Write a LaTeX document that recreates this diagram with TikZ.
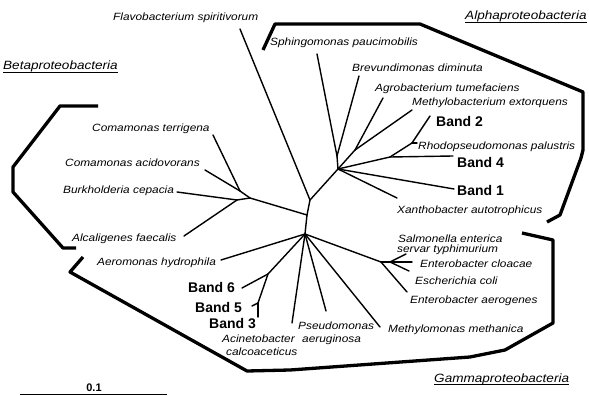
\documentclass[tikz,border=0pt]{standalone}
\usepackage{fontspec}
\setmainfont{Liberation Sans}
\newfontfamily\labfont[FakeStretch=1.13]{Liberation Sans}
\tikzset{
  br/.style={line width=1.4pt, line cap=round, line join=round},
  grp/.style={line width=3.3pt, line join=round, line cap=butt},
  sp/.style={anchor=base west, inner sep=0pt, font=\labfont\itshape\fontsize{10.5}{10.5}\selectfont},
  band/.style={anchor=base west, inner sep=0pt, font=\bfseries\fontsize{14}{14}\selectfont},
  ttl/.style={anchor=base west, inner sep=0pt, font=\labfont\itshape\fontsize{12}{12}\selectfont},
  uline/.style={line width=0.8pt}
}
\begin{document}
\begin{tikzpicture}[x=1pt,y=-1pt]
\useasboundingbox (0,0) rectangle (589,396);

% ---------- internal nodes ----------
\coordinate (C1) at (310,200);
\coordinate (C2) at (307,215);
\coordinate (C3) at (305,234);
\coordinate (A)  at (338,169);
\coordinate (S1) at (337,156);
\coordinate (A2) at (355,150);
\coordinate (A3) at (390,157);
\coordinate (A4) at (412,143);
\coordinate (B)  at (250,198);
\coordinate (Cm) at (240,191);
\coordinate (D)  at (237,200);
\coordinate (G6) at (268,274);
\coordinate (G5) at (258,303);
\coordinate (E1) at (381,262);
\coordinate (E2) at (390,262);

% ---------- tips ----------
\coordinate (tflavo) at (240,29);
\coordinate (tsphin) at (317,54);
\coordinate (tbrev) at (359,76);
\coordinate (tagro) at (383,98);
\coordinate (tmethb) at (412,110);
\coordinate (tband2) at (430,116);
\coordinate (trhodo) at (417,143);
\coordinate (tband4) at (453,156);
\coordinate (tband1) at (454,189);
\coordinate (txanth) at (397,198);
\coordinate (tcterr) at (213,135);
\coordinate (tcacid) at (205,170);
\coordinate (tburk) at (177,192);
\coordinate (talcal) at (184,236);
\coordinate (taerom) at (221,260);
\coordinate (tband6) at (242,288);
\coordinate (tband5) at (252,306);
\coordinate (tband3) at (258,317);
\coordinate (tacin) at (292,323);
\coordinate (tpseu) at (326,311);
\coordinate (tmethm) at (380,327);
\coordinate (tsalm) at (406,254);
\coordinate (tcloac) at (412,262);
\coordinate (tecoli) at (409,271);
\coordinate (taerog) at (407,292);

% ---------- tree ----------
\draw[br] (C1) -- (tflavo);
\draw[br] (C1) -- (A);
\draw[br] (C1) -- (C2);
\draw[br] (C2) -- (B);
\draw[br] (C2) -- (C3);
% alpha
\draw[br] (A) -- (S1);
\draw[br] (S1) -- (tsphin);
\draw[br] (S1) -- (tbrev);
\draw[br] (A) -- (A2);
\draw[br] (A2) -- (tagro);
\draw[br] (A2) -- (tmethb);
\draw[br] (A) -- (A3);
\draw[br] (A3) -- (tband4);
\draw[br] (A3) -- (A4);
\draw[br] (A4) -- (tband2);
\draw[br] (A4) -- (trhodo);
\draw[br] (A) -- (tband1);
\draw[br] (A) -- (txanth);
% beta
\draw[br] (B) -- (Cm);
\draw[br] (Cm) -- (tcterr);
\draw[br] (Cm) -- (tcacid);
\draw[br] (B) -- (D);
\draw[br] (D) -- (tburk);
\draw[br] (D) -- (talcal);
% gamma
\draw[br] (C3) -- (taerom);
\draw[br] (C3) -- (G6);
\draw[br] (G6) -- (tband6);
\draw[br] (G6) -- (G5);
\draw[br] (G5) -- (tband5);
\draw[br] (G5) -- (tband3);
\draw[br] (C3) -- (tacin);
\draw[br] (C3) -- (tpseu);
\draw[br] (C3) -- (tmethm);
\draw[br] (C3) -- (E1);
\draw[br] (E1) -- (E2);
\draw[br] (E2) -- (tsalm);
\draw[br] (E2) -- (tcloac);
\draw[br] (E2) -- (tecoli);
\draw[br] (E1) -- (taerog);

% ---------- group brackets ----------
\coordinate (pa1) at (263,50);  \coordinate (pa2) at (275,24);
\coordinate (pa3) at (420,24);  \coordinate (pa4) at (583,92);
\coordinate (pa5) at (583,150); \coordinate (pa6) at (581,158);
\coordinate (pa7) at (560,215); \coordinate (pa8) at (547,222);
\draw[grp] (pa1) -- (pa2) -- (pa3) -- (pa4) -- (pa5) -- (pa6) -- (pa7) -- (pa8);

\coordinate (pb1) at (98,106);  \coordinate (pb2) at (60,106);
\coordinate (pb3) at (13,167);  \coordinate (pb4) at (13,192);
\coordinate (pb5) at (63,248);  \coordinate (pb6) at (76,248);
\draw[grp] (pb1) -- (pb2) -- (pb3) -- (pb4) -- (pb5) -- (pb6);

\coordinate (pg1) at (522,233); \coordinate (pg2) at (553,240);
\coordinate (pg3) at (553,323); \coordinate (pg4) at (505,350);
\coordinate (pg5) at (470,357); \coordinate (pg6) at (290,370);
\coordinate (pg7) at (247,371); \coordinate (pg8) at (70,272);
\coordinate (pg9) at (83,257);
\draw[grp] (pg1) -- (pg2) -- (pg3) -- (pg4) -- (pg5) -- (pg6) -- (pg7) -- (pg8) -- (pg9);

% ---------- titles ----------
\node[ttl] (talpha) at (465,19.5) {Alphaproteobacteria};
\node[ttl] (tbeta) at (3,70) {Betaproteobacteria};
\node[ttl] (tgamma) at (434,382) {Gammaproteobacteria};
\draw[uline] ([yshift=-2.5pt]talpha.base west) -- ([yshift=-2.5pt]talpha.base east);
\draw[uline] ([yshift=-2.5pt]tbeta.base west) -- ([yshift=-2.5pt]tbeta.base east);
\draw[uline] ([yshift=-2.5pt]tgamma.base west) -- ([yshift=-2.5pt]tgamma.base east);

% ---------- labels ----------
\node[sp] (lflavo) at (113,21) {Flavobacterium spiritivorum};
\node[sp] (lsphin) at (270,46) {Sphingomonas paucimobilis};
\node[sp] (lbrev) at (352,72) {Brevundimonas diminuta};
\node[sp] (lagro) at (375,92) {Agrobacterium tumefaciens};
\node[sp] (lmethb) at (412,106) {Methylobacterium extorquens};
\node[band] (lband2) at (436,126) {Band 2};
\node[sp] (lrhodo) at (418,149) {Rhodopseudomonas palustris};
\node[band] (lband4) at (457,167) {Band 4};
\node[band] (lband1) at (457,195) {Band 1};
\node[sp] (lxanth) at (397,213) {Xanthobacter autotrophicus};

\node[sp] (lcterr) at (92,131) {Comamonas terrigena};
\node[sp] (lcacid) at (65,166) {Comamonas acidovorans};
\node[sp] (lburk) at (63,193) {Burkholderia cepacia};
\node[sp] (lalcal) at (72,241) {Alcaligenes faecalis};

\node[sp] (laerom) at (97,265) {Aeromonas hydrophila};
\node[band] (lband6) at (188,292) {Band 6};
\node[band] (lband5) at (195,312) {Band 5};
\node[band] (lband3) at (209,328) {Band 3};
\node[sp] (lacin1) at (222,342) {Acinetobacter};
\node[sp] (lacin2) at (226,355) {calcoaceticus};
\node[sp] (lpseu1) at (298,329) {Pseudomonas};
\node[sp] (lpseu2) at (302,342) {aeruginosa};
\node[sp] (lmethm) at (388,332) {Methylomonas methanica};
\node[sp] (lsalm1) at (398,242) {Salmonella enterica};
\node[sp] (lsalm2) at (397,252) {servar typhimurium};
\node[sp] (lcloac) at (420,267) {Enterobacter cloacae};
\node[sp] (lecoli) at (415,284) {Escherichia coli};
\node[sp] (laerog) at (410,303) {Enterobacter aerogenes};

% ---------- scale bar ----------
\coordinate (sb1) at (20,394);
\coordinate (sb2) at (167,394);
\draw[line width=1pt] (sb1) -- (sb2);
\node[anchor=base, inner sep=0pt, font=\bfseries\fontsize{11}{11}\selectfont] (lscale) at (94,391) {0.1};
\end{tikzpicture}
\end{document}
